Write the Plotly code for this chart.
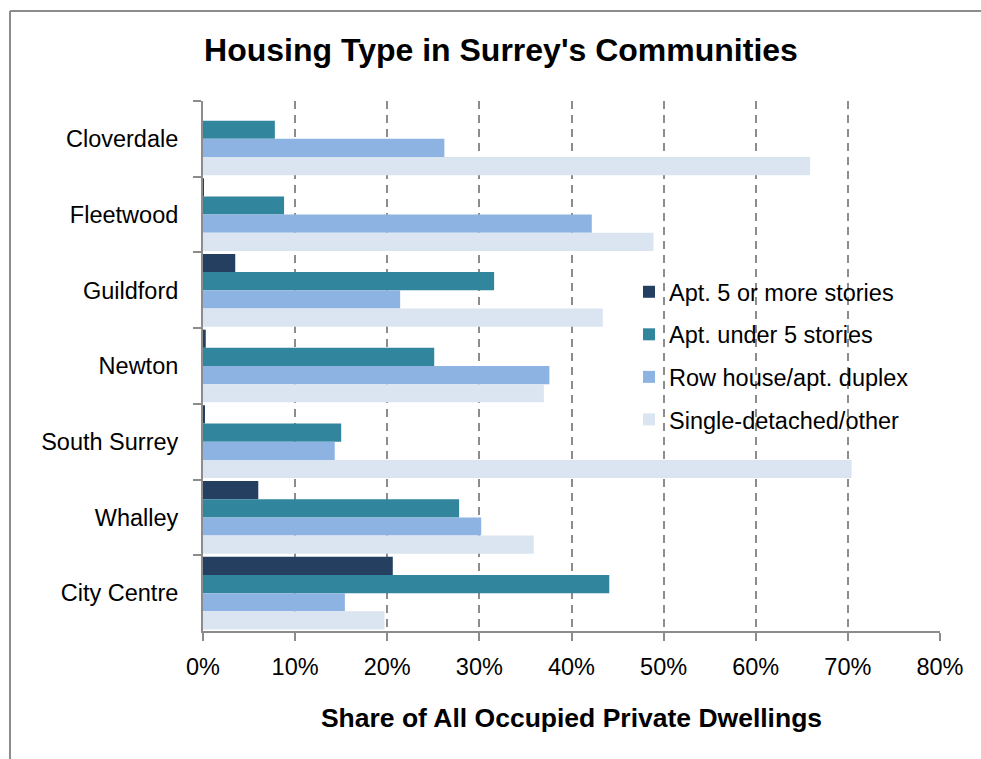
import plotly.graph_objects as go

categories = ["Cloverdale", "Fleetwood", "Guildford", "Newton", "South Surrey", "Whalley", "City Centre"]
series_names = ["Apt. 5 or more stories", "Apt. under 5 stories", "Row house/apt. duplex", "Single-detached/other"]
apt5 = [0.0, 0.1, 3.5, 0.3, 0.2, 6.0, 20.6]
apt_under5 = [7.8, 8.8, 31.6, 25.1, 15.0, 27.8, 44.1]
row_house = [26.2, 42.2, 21.4, 37.6, 14.3, 30.2, 15.4]
single = [65.9, 48.9, 43.4, 37.0, 70.4, 35.9, 19.7]
x_ticks = [0, 10, 20, 30, 40, 50, 60, 70, 80]

colors = ["#243F60", "#31859C", "#8DB3E2", "#DBE5F1"]
values = [apt5, apt_under5, row_house, single]

FONT = "Liberation Sans, Arial, sans-serif"
W, H = 981, 759
L, T = 203, 101
pw, ph = 737, 530
R, B = W - L - pw, H - T - ph

fig = go.Figure()
for i, (name, vals) in enumerate(zip(series_names, values)):
    fig.add_trace(go.Bar(
        y=categories, x=vals, name=name, orientation="h",
        marker=dict(color=colors[i], line=dict(width=0)),
        legendgroup=f"g{i}",
    ))

fig.update_layout(
    width=W, height=H,
    margin=dict(l=L, r=R, t=T, b=B, pad=0),
    paper_bgcolor="white", plot_bgcolor="white",
    barmode="group", bargap=0.04, bargroupgap=0,
    font=dict(family=FONT, size=23.5, color="black"),
    title=dict(text="<b>Housing Type in Surrey's Communities</b>",
               font=dict(family=FONT, size=32, color="black"),
               xref="container", x=501 / W, xanchor="center",
               yref="container", y=1 - 50 / H, yanchor="middle"),
    legend=dict(x=(629 - L) / pw, y=(T + ph - 270) / ph, xanchor="left", yanchor="top",
                bgcolor="rgba(0,0,0,0)", traceorder="grouped", tracegroupgap=9,
                font=dict(family=FONT, size=23.5, color="black")),
    showlegend=True,
)

fig.update_xaxes(
    range=[0, 80], tickvals=x_ticks, ticktext=[f"{v}%" for v in x_ticks],
    showgrid=True, gridcolor="#8C8C8C", gridwidth=2, griddash="8px,6px",
    showline=True, linecolor="#8C8C8C", linewidth=2,
    ticks="outside", ticklen=8, tickwidth=2, tickcolor="#8C8C8C",
    zeroline=False, ticklabelstandoff=6,
    title=dict(text="<b>Share of All Occupied Private Dwellings</b>",
               font=dict(family=FONT, size=26.5, color="black"), standoff=29),
    automargin=False,
)
fig.update_yaxes(
    categoryorder="array", categoryarray=categories, range=[6.5, -0.5],
    showgrid=False, showline=True, linecolor="#8C8C8C", linewidth=2,
    ticks="outside", ticklen=8, tickwidth=2, tickcolor="#8C8C8C",
    tickson="boundaries", ticklabelstandoff=18, zeroline=False,
    automargin=False,
)

# chart-area border: only top and left edges are visible in the reference
x_left = (10 - L) / pw
x_right = (W - L) / pw
y_top = (T + ph - 11) / ph
y_bottom = (T + ph - H) / ph
fig.add_shape(type="line", xref="paper", yref="paper",
              x0=x_left, x1=x_right, y0=y_top, y1=y_top,
              line=dict(color="#8C8C8C", width=2), layer="below")
fig.add_shape(type="line", xref="paper", yref="paper",
              x0=x_left, x1=x_left, y0=y_top, y1=y_bottom,
              line=dict(color="#8C8C8C", width=2), layer="below")

fig.write_html(
    "out.html",
    config={"displayModeBar": False},
    post_script=(
        "document.documentElement.style.overflow='hidden';"
        "document.body.style.margin='0';"
        "document.body.style.overflow='hidden';"
    ),
)
